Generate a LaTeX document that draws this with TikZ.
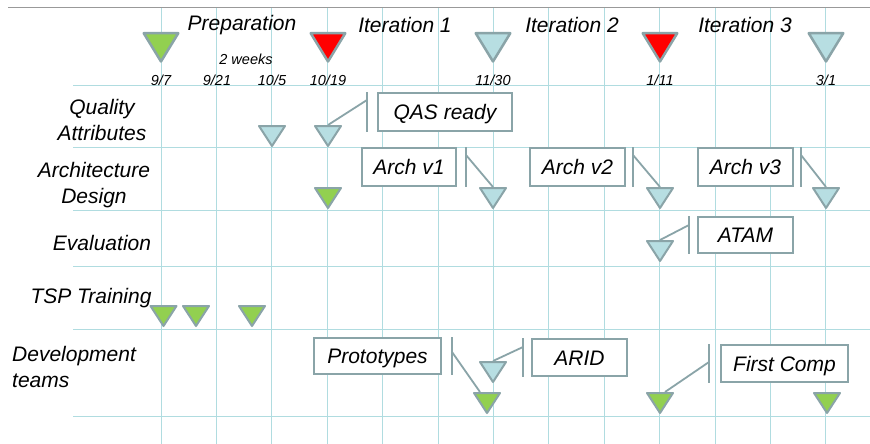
\documentclass[tikz,border=0pt]{standalone}
\usepackage{fontspec}
\setmainfont{Liberation Sans}
\usetikzlibrary{positioning}
\usetikzlibrary{calc}

\definecolor{gridblue}{RGB}{176,220,224}
\definecolor{rimgrey}{RGB}{138,164,168}
\definecolor{msgreen}{RGB}{146,208,80}
\definecolor{msred}{RGB}{255,0,0}
\definecolor{msblue}{RGB}{183,222,226}

\tikzset{gridline/.style={draw=gridblue, line width=1pt}}
\tikzset{phase/.style={font=\fontsize{21}{25.5}\selectfont\itshape, inner sep=0pt}}
\tikzset{rowlabel/.style={font=\fontsize{21}{25.5}\selectfont\itshape, inner sep=0pt, align=center}}
\tikzset{datelabel/.style={font=\fontsize{14.5}{17}\selectfont\itshape, inner sep=0pt}}
\tikzset{callout/.style={rectangle, draw=rimgrey, line width=2pt, fill=white,
    minimum height=38pt, inner sep=0pt, text height=15pt, text depth=0pt,
    font=\fontsize{21}{25.5}\selectfont\itshape}}
\tikzset{bar/.style={draw=rimgrey, line width=2pt}}
\tikzset{leader/.style={draw=rimgrey, line width=1.8pt}}
\tikzset{bigmark/.style={draw=rimgrey, line width=2.5pt, line join=round}}
\tikzset{smallmark/.style={draw=rimgrey, line width=2pt, line join=round}}

% milestone triangles: name, x, top y, fill
\newcommand{\bigstone}[4]{\coordinate (#1) at (#2,#3);
    \draw[bigmark, fill=#4] (#2-17.3,#3+1.2) -- (#2+17.3,#3+1.2) -- (#2,#3+29.5) -- cycle;}
\newcommand{\smallstone}[4]{\coordinate (#1) at (#2,#3);
    \draw[smallmark, fill=#4] (#2-13,#3+1) -- (#2+13,#3+1) -- (#2,#3+21) -- cycle;}

\begin{document}
\begin{tikzpicture}[x=1pt, y=-1pt]
    \fill[white] (0,0) rectangle (870,444);
    \useasboundingbox (0,0) rectangle (870,444);

    % The grid.
    \foreach \i in {0,...,12}
        \draw[gridline] (161+55.4*\i,8) -- (161+55.4*\i,444);
    \draw[gridline, line width=1.6pt] (493.4,8) -- (493.4,444);
    \foreach \gy in {85,147,210,266,329,416}
        \draw[gridline] (73,\gy) -- (870,\gy);
    \draw[draw=black!40, line width=1pt] (8,8) -- (870,8);

    % Phases and dates.
    \node[phase] (phPrep) at (242,25) {Preparation};
    \node[phase] (phIt1) at (405,25) {Iteration 1};
    \node[phase] (phIt2) at (572,25) {Iteration 2};
    \node[phase] (phIt3) at (745,25) {Iteration 3};
    \node[datelabel] (weeks) at (246,59) {2 weeks};

    \node[datelabel] (d0) at (161,80) {9/7};
    \node[datelabel] (d1) at (217,80) {9/21};
    \node[datelabel] (d2) at (272,80) {10/5};
    \node[datelabel] (d3) at (328,80) {10/19};
    \node[datelabel] (d4) at (493,80) {11/30};
    \node[datelabel] (d5) at (660,80) {1/11};
    \node[datelabel] (d6) at (826,80) {3/1};

    \bigstone{ms0}{161}{32}{msgreen}
    \bigstone{ms1}{328}{32}{msred}
    \bigstone{ms2}{493}{32}{msblue}
    \bigstone{ms3}{660}{32}{msred}
    \bigstone{ms4}{826}{32}{msblue}

    % Row labels.
    \node[rowlabel] (rQA) at (102,120) {Quality\\Attributes};
    \node[rowlabel] (rAD) at (94,185) {Architecture\\Design};
    \node[rowlabel] (rEV) at (102,243) {Evaluation};
    \node[rowlabel] (rTSP) at (91,298) {TSP Training};
    \node[rowlabel, align=left, anchor=west] (rDEV) at (12,367) {Development\\teams};

    % Row milestones.
    \smallstone{qa1}{272}{125}{msblue}
    \smallstone{qa2}{328}{125}{msblue}
    \smallstone{ad0}{328}{187}{msgreen}
    \smallstone{ad1}{493}{187}{msblue}
    \smallstone{ad2}{660}{187}{msblue}
    \smallstone{ad3}{826}{187}{msblue}
    \smallstone{ev1}{660}{240}{msblue}
    \smallstone{ts1}{163.5}{305}{msgreen}
    \smallstone{ts2}{196}{305}{msgreen}
    \smallstone{ts3}{252}{305}{msgreen}
    \smallstone{dv1}{493}{361}{msblue}
    \smallstone{dv2}{487}{392}{msgreen}
    \smallstone{dv3}{660}{392}{msgreen}
    \smallstone{dv4}{827}{392}{msgreen}

    % Callouts.
    \node[callout, minimum width=134pt] (qas) at (445,112) {QAS ready};
    \draw[bar] ($(qas.north west)+(-10,0)$) -- ($(qas.south west)+(-10,0)$);
    \draw[leader] ($(qas.north west)+(-10,8)$) -- (qa2);

    \node[callout, minimum width=94pt] (archA) at (409,167) {Arch v1};
    \draw[bar] ($(archA.north east)+(9,0)$) -- ($(archA.south east)+(9,0)$);
    \draw[leader] ($(archA.north east)+(9,8)$) -- (ad1);

    \node[callout, minimum width=95pt] (archB) at (577.5,167) {Arch v2};
    \draw[bar] ($(archB.north east)+(7,0)$) -- ($(archB.south east)+(7,0)$);
    \draw[leader] ($(archB.north east)+(7,8)$) -- (ad2);

    \node[callout, minimum width=95pt] (archC) at (745.5,167) {Arch v3};
    \draw[bar] ($(archC.north east)+(7,0)$) -- ($(archC.south east)+(7,0)$);
    \draw[leader] ($(archC.north east)+(7,8)$) -- (ad3);

    \node[callout, minimum width=95pt, minimum height=36pt] (atam) at (745.5,235) {ATAM};
    \draw[bar] ($(atam.north west)+(-8,0)$) -- ($(atam.south west)+(-8,0)$);
    \draw[leader] ($(atam.north west)+(-8,9)$) -- (ev1);

    \node[callout, minimum width=127pt, minimum height=36pt] (proto) at (377.5,356) {Prototypes};
    \draw[bar] ($(proto.north east)+(10,0)$) -- ($(proto.south east)+(10,0)$);
    \draw[leader] ($(proto.north east)+(10,15)$) -- ($(dv2)+(-7,0)$);

    \node[callout, minimum width=95pt, minimum height=37pt] (arid) at (579.5,357.5) {ARID};
    \draw[bar] ($(arid.north west)+(-8,0)$) -- ($(arid.south west)+(-8,0)$);
    \draw[leader] ($(arid.north west)+(-8,9)$) -- (dv1);

    \node[callout, minimum width=127pt, minimum height=37pt] (first) at (784.5,363.5) {First Comp};
    \draw[bar] ($(first.north west)+(-11,0)$) -- ($(first.south west)+(-11,0)$);
    \draw[leader] ($(first.north west)+(-11,18)$) -- ($(dv3)+(5,0)$);

\end{tikzpicture}
\end{document}
